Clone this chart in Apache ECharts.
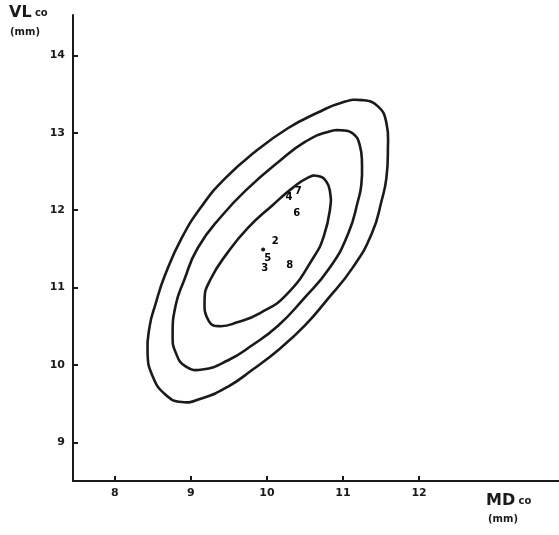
<!DOCTYPE html>
<html>
<head>
<meta charset="utf-8">
<script src="https://cdn.jsdelivr.net/npm/echarts@6/dist/echarts.min.js"></script>
<style>
  html, body { margin: 0; padding: 0; background: #fff; }
  #chart { width: 559px; height: 535px; }
</style>
</head>
<body>
<div id="chart"></div>
<script>
const FONT = "DejaVu Sans, sans-serif";
const INK = "#1a1a1a";

// tick values on both axes
const xTicks = [8, 9, 10, 11, 12];
const yTicks = [9, 10, 11, 12, 13, 14];

// closed contour lines, [MD, VL] in mm
const outerContour = [
  [8.43, 10.16], [8.46, 10.51], [8.53, 10.77], [8.66, 11.16], [8.88, 11.64],
  [9.15, 12.06], [9.45, 12.41], [9.84, 12.75], [10.28, 13.06], [10.67, 13.26],
  [10.99, 13.39], [11.25, 13.42], [11.46, 13.34], [11.57, 13.13], [11.59, 12.77],
  [11.57, 12.41], [11.51, 12.13], [11.38, 11.70], [11.13, 11.26], [10.79, 10.84],
  [10.50, 10.51], [10.17, 10.21], [9.80, 9.93], [9.49, 9.72], [9.15, 9.57],
  [8.88, 9.52], [8.66, 9.62], [8.49, 9.87]
];
const middleContour = [
  [8.76, 10.38], [8.80, 10.77], [8.91, 11.09], [9.09, 11.51], [9.41, 11.93],
  [9.75, 12.28], [10.15, 12.62], [10.50, 12.88], [10.80, 13.01], [10.99, 13.03],
  [11.13, 12.99], [11.22, 12.84], [11.25, 12.58], [11.24, 12.32], [11.20, 12.13],
  [11.07, 11.70], [10.83, 11.26], [10.47, 10.84], [10.15, 10.51], [9.80, 10.25],
  [9.49, 10.06], [9.15, 9.94], [8.93, 9.98], [8.80, 10.16]
];
const innerContour = [
  [9.18, 10.84], [9.25, 11.09], [9.49, 11.46], [9.75, 11.77], [10.07, 12.06],
  [10.33, 12.28], [10.54, 12.42], [10.67, 12.44], [10.78, 12.37], [10.83, 12.23],
  [10.83, 12.02], [10.75, 11.67], [10.62, 11.40], [10.26, 10.91], [9.91, 10.67],
  [9.61, 10.55], [9.38, 10.50], [9.24, 10.56]
];

// numbered specimens
const pointLabels = ["1", "2", "3", "4", "5", "6", "7", "8"];
const pointX = [9.95, 10.11, 9.97, 10.29, 10.01, 10.39, 10.41, 10.30];
const pointY = [11.49, 11.60, 11.24, 12.17, 11.37, 11.96, 12.24, 11.28];

const chart = echarts.init(document.getElementById("chart"), null, { renderer: "canvas" });

// one closed, smoothed ring per contour, placed through the axes
const contourSeries = (contour) => ({
  type: "custom",
  data: contour,
  silent: true,
  animation: false,
  renderItem: (params, api) => {
    if (params.dataIndex !== 0) return null;
    return {
      type: "polygon",
      shape: { points: contour.map((p) => api.coord(p)), smooth: 0.5 },
      style: { fill: "none", stroke: INK, lineWidth: 2.6 },
    };
  },
});

chart.setOption({
  backgroundColor: "#fff",
  animation: false,
  grid: { left: 73, right: 0, top: 15, bottom: 54, outerBoundsMode: "none" },
  xAxis: {
    type: "value",
    min: 7.45,
    max: 13.84,
    splitLine: { show: false },
    axisLine: { lineStyle: { color: INK, width: 2 } },
    axisTick: { inside: true, length: 5, customValues: xTicks, lineStyle: { color: INK, width: 2 } },
    axisLabel: {
      customValues: xTicks,
      margin: 7,
      color: INK,
      fontFamily: FONT,
      fontSize: 11,
      fontWeight: "bold",
    },
  },
  yAxis: {
    type: "value",
    min: 8.5,
    max: 14.52,
    splitLine: { show: false },
    axisLine: { lineStyle: { color: INK, width: 2 } },
    axisTick: { inside: true, length: 5, customValues: yTicks, lineStyle: { color: INK, width: 2 } },
    axisLabel: {
      customValues: yTicks,
      margin: 8,
      color: INK,
      fontFamily: FONT,
      fontSize: 11,
      fontWeight: "bold",
    },
  },
  series: [
    contourSeries(outerContour),
    contourSeries(middleContour),
    contourSeries(innerContour),
    {
      type: "scatter",
      animation: false,
      silent: true,
      data: pointX.map((x, i) => ({
        name: pointLabels[i],
        value: [x, pointY[i]],
        // specimen 1 is drawn as a dot, the others by their number
        symbolSize: i === 0 ? 4 : 0,
        label: { show: i !== 0 },
      })),
      itemStyle: { color: INK, opacity: 1 },
      label: {
        position: "inside",
        formatter: (p) => p.name,
        color: "#000",
        opacity: 1,
        fontFamily: FONT,
        fontSize: 10,
        fontWeight: "bold",
      },
    },
  ],
  graphic: [
    {
      type: "text", left: 9, top: 5,
      style: {
        text: "{a|VL} {b|co}",
        rich: {
          a: { fontFamily: FONT, fontSize: 16, fontWeight: "bold", fill: INK },
          b: { fontFamily: FONT, fontSize: 10, fontWeight: "bold", fill: INK },
        },
      },
    },
    {
      type: "text", left: 10, top: 27,
      style: { text: "(mm)", fontFamily: FONT, fontSize: 10, fontWeight: "bold", fill: INK },
    },
    {
      type: "text", left: 486, top: 493,
      style: {
        text: "{a|MD} {b|co}",
        rich: {
          a: { fontFamily: FONT, fontSize: 16, fontWeight: "bold", fill: INK },
          b: { fontFamily: FONT, fontSize: 10, fontWeight: "bold", fill: INK },
        },
      },
    },
    {
      type: "text", left: 488, top: 514,
      style: { text: "(mm)", fontFamily: FONT, fontSize: 10, fontWeight: "bold", fill: INK },
    },
  ],
});
</script>
</body>
</html>
